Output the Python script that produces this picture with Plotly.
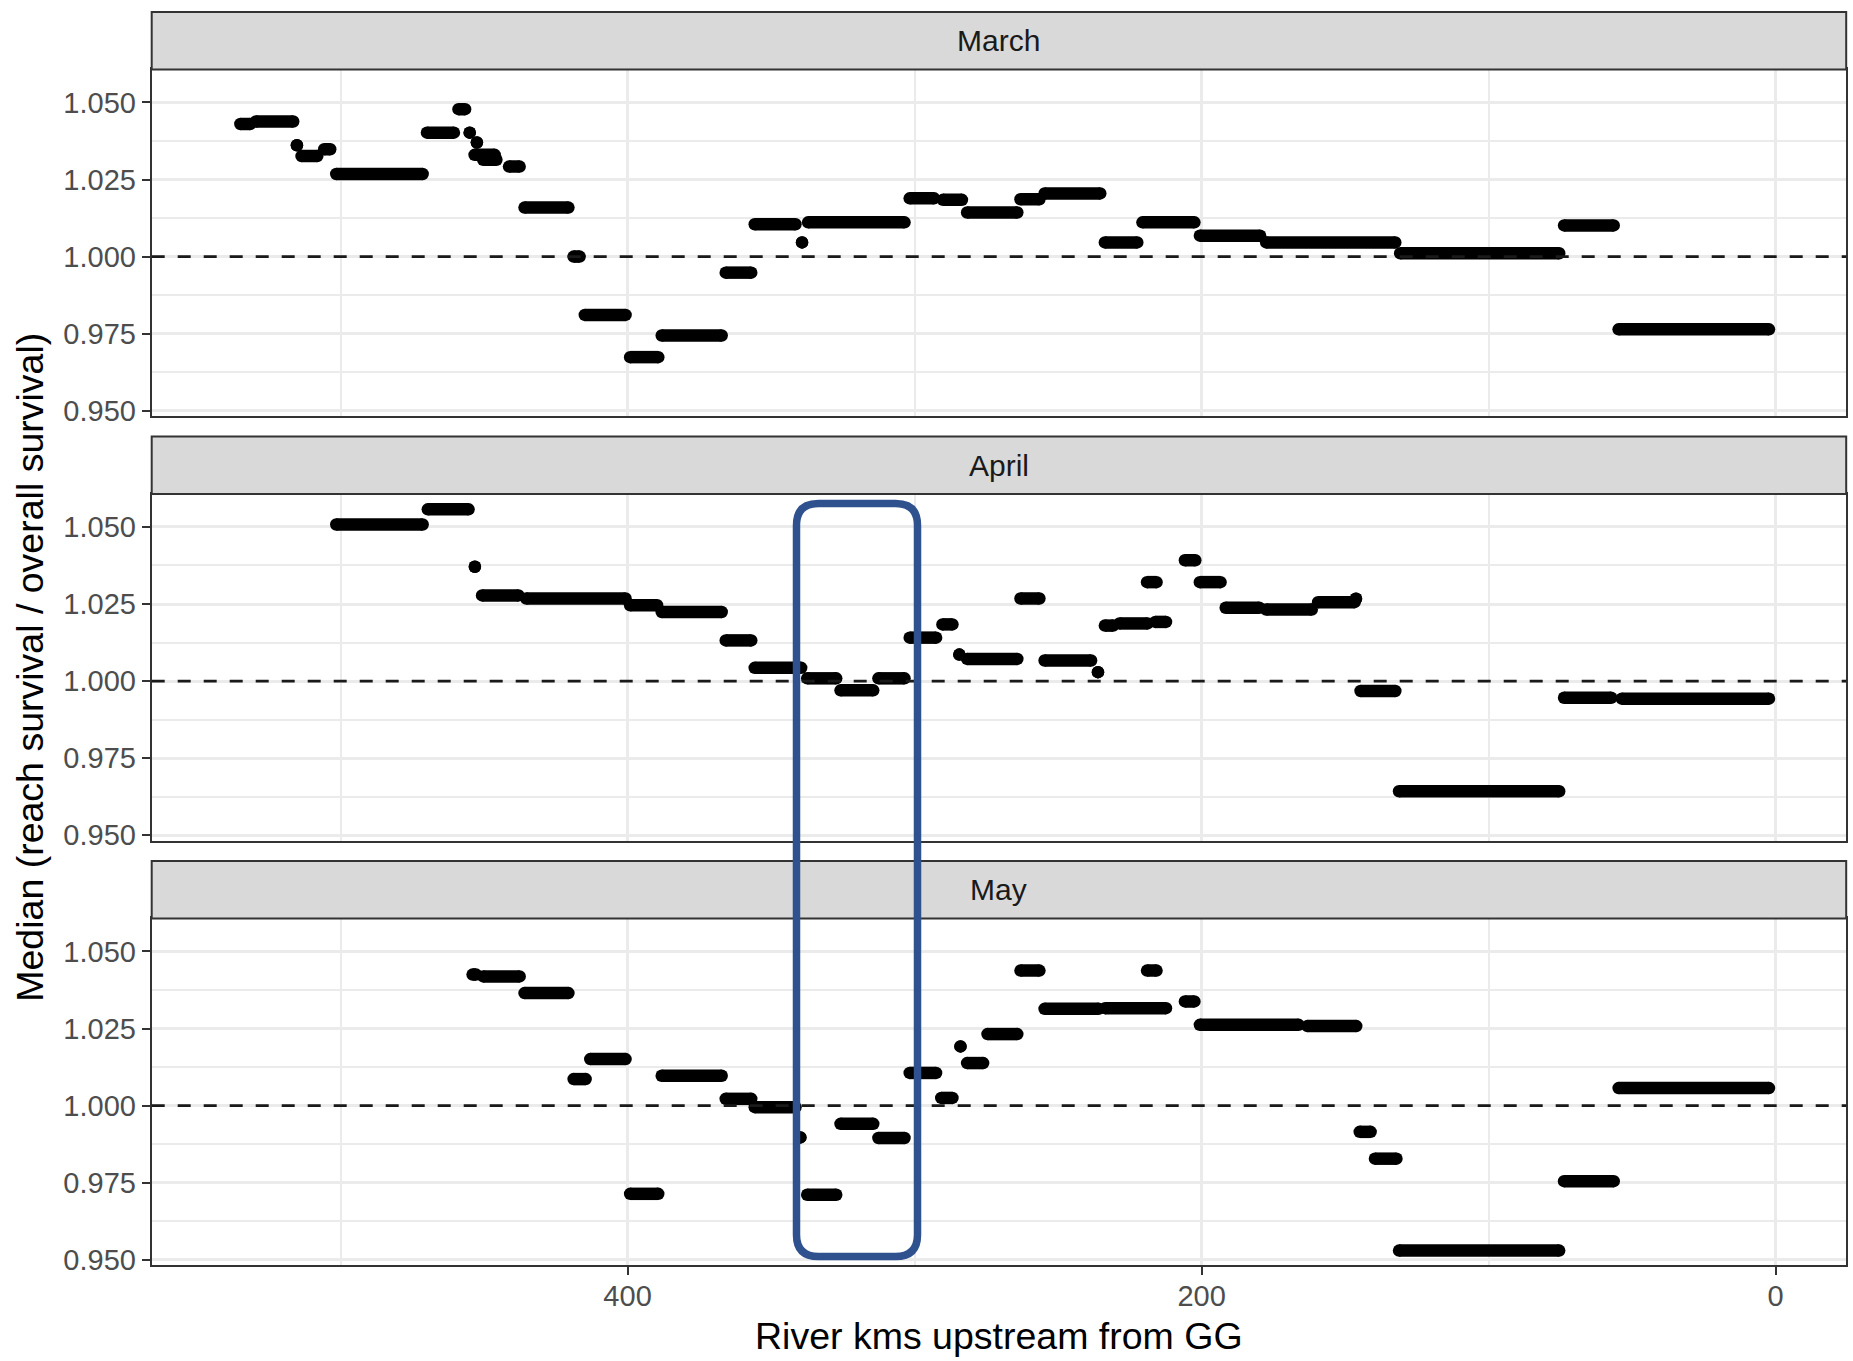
import plotly.graph_objects as go

W, H = 1853, 1361

# ---------------- data (river km upstream from GG, median ratio) ----------------
months = ["March", "April", "May"]

march_start = [534.9, 529.5, 515.2, 513.6, 505.7, 501.5, 469.9, 458.9, 455.0, 452.5,
               453.3, 450.3, 441.3, 435.9, 418.8, 414.9, 399.1, 388.1, 365.8, 355.7,
               339.2, 337.1, 301.7, 290.1, 281.7, 263.1, 254.7, 233.7, 220.6, 200.6,
               177.5, 130.8, 73.7, 54.7]
march_end = [531.5, 516.5, 515.2, 508.1, 503.6, 471.4, 460.5, 456.6, 455.0, 452.5,
             446.3, 445.7, 437.6, 420.6, 416.7, 400.7, 389.3, 367.2, 356.9, 341.5,
             339.2, 303.5, 293.2, 283.5, 264.2, 256.5, 235.3, 222.4, 202.5, 179.6,
             132.5, 75.4, 56.4, 2.3]
march_val = [1.0430, 1.0438, 1.0361, 1.0326, 1.0348, 1.0268, 1.0402, 1.0478, 1.0402, 1.0370,
             1.0330, 1.0314, 1.0292, 1.0159, 1.0000, 0.9811, 0.9674, 0.9744, 0.9948, 1.0105,
             1.0046, 1.0111, 1.0189, 1.0184, 1.0143, 1.0186, 1.0205, 1.0046, 1.0111, 1.0068,
             1.0046, 1.0011, 1.0101, 0.9764]

april_start = [501.5, 469.6, 453.2, 450.7, 435.3, 399.1, 388.1, 365.8, 355.7, 337.4,
               325.8, 312.6, 301.7, 290.3, 284.4, 281.7, 263.1, 254.7, 236.1, 233.7,
               228.6, 216.1, 219.0, 205.8, 200.6, 191.6, 177.5, 159.4, 146.2, 144.6,
               131.2, 73.7, 53.6]
april_end = [471.4, 455.4, 453.2, 438.0, 400.7, 389.7, 367.2, 356.9, 339.5, 327.3,
             314.4, 303.5, 292.5, 286.8, 284.4, 264.2, 256.5, 238.5, 236.1, 230.8,
             218.8, 212.4, 215.7, 202.2, 193.4, 179.9, 161.6, 146.7, 146.2, 132.5,
             75.4, 57.3, 2.3]
april_val = [1.0508, 1.0557, 1.0371, 1.0278, 1.0268, 1.0246, 1.0224, 1.0132, 1.0043, 1.0009,
             0.9970, 1.0009, 1.0141, 1.0184, 1.0086, 1.0072, 1.0268, 1.0067, 1.0029, 1.0180,
             1.0187, 1.0192, 1.0321, 1.0392, 1.0321, 1.0238, 1.0232, 1.0256, 1.0267, 0.9968,
             0.9643, 0.9946, 0.9943]

may_start = [454.0, 450.3, 435.9, 418.8, 413.0, 399.1, 388.1, 365.8, 355.7, 339.8,
             337.4, 325.8, 312.6, 301.7, 290.7, 284.0, 281.7, 274.6, 263.1, 254.7,
             233.6, 219.0, 205.8, 200.6, 163.1, 144.9, 139.6, 131.2, 73.7, 54.7]
may_end = [452.8, 437.6, 420.6, 414.6, 400.7, 389.3, 367.2, 356.9, 341.5, 339.8,
           327.3, 314.4, 303.5, 292.5, 286.8, 284.0, 276.1, 264.2, 256.5, 235.9,
           212.4, 215.7, 202.5, 166.2, 146.1, 141.1, 132.1, 75.4, 56.4, 2.3]
may_val = [1.0425, 1.0419, 1.0365, 1.0086, 1.0151, 0.9714, 1.0097, 1.0022, 0.9995, 0.9897,
           0.9711, 0.9941, 0.9895, 1.0106, 1.0025, 1.0192, 1.0138, 1.0232, 1.0438, 1.0314,
           1.0316, 1.0438, 1.0338, 1.0262, 1.0258, 0.9915, 0.9828, 0.9530, 0.9755, 1.0057]

x_tick_vals = [400, 200, 0]
x_tick_text = ["400", "200", "0"]
x_minor_vals = [500, 300, 100]
y_tick_vals = [0.950, 0.975, 1.000, 1.025, 1.050]
y_tick_text = ["0.950", "0.975", "1.000", "1.025", "1.050"]
y_minor_vals = [0.9625, 0.9875, 1.0125, 1.0375]
reference_level = 1.0

x_title = "River kms upstream from GG"
y_title = "Median (reach survival / overall survival)"

# ---------------- layout geometry (pixels) ----------------
FONT = "Liberation Sans, Arial, sans-serif"
VS = 1.007  # vertical placement factor
plot_left, plot_right = 151.7, 1846.2
plot_tops = [69.5 * VS, 494.5 * VS, 919.5 * VS]
plot_h = 347.0 * VS
strip_h = 57.5 * VS
x_range = [565.8, -24.6]
y_range = [0.9483, 1.0607]

def fx(px):
    return px / W

def fy(py):
    return 1 - py / H

fig = go.Figure()
panels = [(march_start, march_end, march_val),
          (april_start, april_end, april_val),
          (may_start, may_end, may_val)]

shapes = []
annotations = []
LW = 12.5

for i, (s, e, v) in enumerate(panels):
    ax = "" if i == 0 else str(i + 1)
    xs, ys = [], []
    for a, b, c in zip(s, e, v):
        xs += [a, b, None]
        ys += [c, c, None]
    fig.add_trace(go.Scatter(
        x=xs, y=ys, mode="lines+markers",
        line=dict(color="black", width=LW),
        marker=dict(color="black", size=LW, line=dict(width=0)),
        xaxis="x" + ax, yaxis="y" + ax, showlegend=False, hoverinfo="skip"))

    top = plot_tops[i]
    bottom = top + plot_h
    bottom_panel = (i == 2)
    axis_common = dict(showline=True, mirror=True, linecolor="#333333", linewidth=2,
                       showgrid=True, gridcolor="#EBEBEB", gridwidth=2.6, zeroline=False,
                       tickcolor="#333333", ticklen=8, tickwidth=2,
                       tickfont=dict(family=FONT, size=29, color="#4D4D4D"))
    fig.update_layout(**{
        "xaxis" + ax: dict(axis_common, domain=[fx(plot_left), fx(plot_right)],
                           range=x_range, anchor="y" + ax,
                           tickmode="array", tickvals=x_tick_vals, ticktext=x_tick_text,
                           ticks="outside" if bottom_panel else "",
                           showticklabels=bottom_panel, ticklabelstandoff=-4,
                           minor=dict(tickmode="array", tickvals=x_minor_vals, showgrid=True,
                                      gridcolor="#EBEBEB", gridwidth=1.6, ticks="")),
        "yaxis" + ax: dict(axis_common, domain=[fy(bottom), fy(top)],
                           range=y_range, anchor="x" + ax,
                           tickmode="array", tickvals=y_tick_vals, ticktext=y_tick_text,
                           ticks="outside",
                           minor=dict(tickmode="array", tickvals=y_minor_vals, showgrid=True,
                                      gridcolor="#EBEBEB", gridwidth=1.6, ticks="")),
    })

    # dashed reference line
    shapes.append(dict(type="line", xref="x" + ax + " domain", yref="y" + ax,
                       x0=0, x1=1, y0=reference_level, y1=reference_level,
                       line=dict(color="#1A1A1A", width=2.6, dash="13px,13px")))
    # facet strip
    shapes.append(dict(type="rect", xref="paper", yref="paper",
                       x0=fx(plot_left), x1=fx(plot_right),
                       y0=fy(top), y1=fy(top - strip_h),
                       fillcolor="#D9D9D9", line=dict(color="#333333", width=2)))
    annotations.append(dict(text=months[i], xref="paper", yref="paper",
                            x=fx((plot_left + plot_right) / 2), y=fy(top - strip_h / 2),
                            showarrow=False, xanchor="center", yanchor="middle",
                            font=dict(family=FONT, size=30, color="#1A1A1A")))

# axis titles
annotations.append(dict(text=x_title, xref="paper", yref="paper",
                        x=fx(998.7), y=fy(1347), showarrow=False,
                        xanchor="center", yanchor="middle",
                        font=dict(family=FONT, size=37.5, color="black")))
annotations.append(dict(text=y_title, xref="paper", yref="paper",
                        x=fx(30.5), y=fy(668 * VS), showarrow=False, textangle=-90,
                        xanchor="center", yanchor="middle",
                        font=dict(family=FONT, size=37.5, color="black")))

# blue rounded highlight box
bx0, bx1, by0, by1, r = 796.5, 917.5, 504.0 * VS, 1258.0 * VS, 22.0
path = (f"M {fx(bx0 + r)},{fy(by0)} L {fx(bx1 - r)},{fy(by0)} "
        f"Q {fx(bx1)},{fy(by0)} {fx(bx1)},{fy(by0 + r)} "
        f"L {fx(bx1)},{fy(by1 - r)} Q {fx(bx1)},{fy(by1)} {fx(bx1 - r)},{fy(by1)} "
        f"L {fx(bx0 + r)},{fy(by1)} Q {fx(bx0)},{fy(by1)} {fx(bx0)},{fy(by1 - r)} "
        f"L {fx(bx0)},{fy(by0 + r)} Q {fx(bx0)},{fy(by0)} {fx(bx0 + r)},{fy(by0)} Z")
shapes.append(dict(type="path", xref="paper", yref="paper", path=path,
                   line=dict(color="#2F528F", width=7.5), fillcolor="rgba(0,0,0,0)"))

fig.update_layout(width=W, height=H, margin=dict(l=0, r=0, t=0, b=0),
                  paper_bgcolor="white", plot_bgcolor="white",
                  shapes=shapes, annotations=annotations,
                  font=dict(family=FONT))

fig.write_html("out.html")
